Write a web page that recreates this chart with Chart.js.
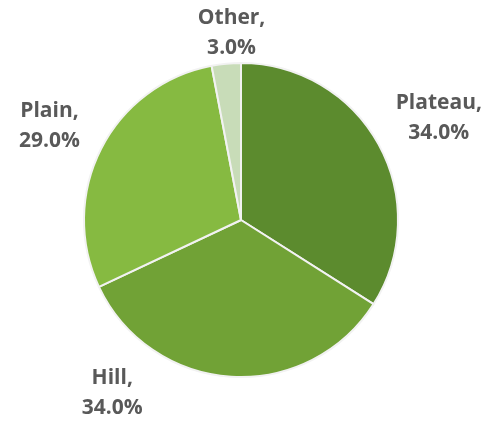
<!DOCTYPE html>
<html lang="en">
<head>
    <meta charset="UTF-8">
    <title>Land share</title>
    <style>
        html, body {
            margin: 0;
            padding: 0;
            background: #ffffff;
        }
        #wrap {
            width: 489px;
            height: 422px;
        }
    </style>
</head>
<body>
    <div id="wrap"><canvas id="pieChart"></canvas></div>

    <script src="https://cdn.jsdelivr.net/npm/chart.js@4/dist/chart.umd.min.js"></script>
    <script>
        const categories = ['Plateau', 'Hill', 'Plain', 'Other'];
        const shares = [34.0, 34.0, 29.0, 3.0];
        const sliceColors = ['#5c8b2e', '#71a236', '#86ba41', '#c8dcb8'];

        // where each label sits, relative to the pie centre, in units of radius
        const labelOffsets = [
            [1.26, -0.65],
            [-0.82, 1.10],
            [-1.22, -0.60],
            [-0.06, -1.19]
        ];

        const outsideLabels = {
            id: 'outsideLabels',
            afterDatasetsDraw(chart) {
                const ctx = chart.ctx;
                const meta = chart.getDatasetMeta(0);
                ctx.save();
                ctx.font = 'bold 21px "Open Sans", sans-serif';
                ctx.fillStyle = '#595959';
                ctx.textAlign = 'center';
                ctx.textBaseline = 'middle';
                meta.data.forEach((arc, i) => {
                    const r = arc.outerRadius;
                    const x = arc.x + labelOffsets[i][0] * r;
                    const y = arc.y + labelOffsets[i][1] * r;
                    ctx.fillText(categories[i] + ',', x, y - 15);
                    ctx.fillText(shares[i].toFixed(1) + '%', x, y + 15);
                });
                ctx.restore();
            }
        };

        new Chart(document.getElementById('pieChart'), {
            type: 'pie',
            data: {
                labels: categories,
                datasets: [{
                    data: shares,
                    backgroundColor: sliceColors,
                    borderColor: '#f2f2f2',
                    borderWidth: 2
                }]
            },
            options: {
                responsive: true,
                maintainAspectRatio: false,
                animation: false,
                layout: {
                    padding: { top: 62, bottom: 44, left: 83, right: 90 }
                },
                plugins: {
                    legend: { display: false },
                    tooltip: { enabled: false }
                }
            },
            plugins: [outsideLabels]
        });
    </script>
</body>
</html>
